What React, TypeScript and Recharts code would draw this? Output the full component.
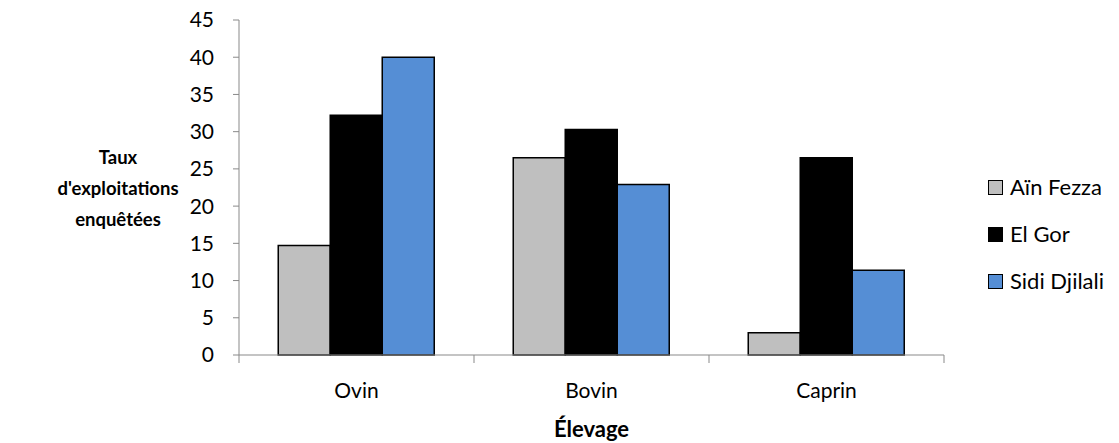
import { Bar, BarChart, XAxis, YAxis } from "recharts";

const CATEGORIES = ["Ovin", "Bovin", "Caprin"];
const AIN_FEZZA = [14.7, 26.5, 3];
const EL_GOR = [32.2, 30.3, 26.5];
const SIDI_DJILALI = [40, 22.9, 11.4];
const Y_TICKS = [0, 5, 10, 15, 20, 25, 30, 35, 40, 45];

const SERIES = [
  { key: "ainFezza", name: "Aïn Fezza", color: "#BFBFBF" },
  { key: "elGor", name: "El Gor", color: "#000000" },
  { key: "sidiDjilali", name: "Sidi Djilali", color: "#558ED5" },
];

const data = CATEGORIES.map((name, i) => ({
  name,
  ainFezza: AIN_FEZZA[i],
  elGor: EL_GOR[i],
  sidiDjilali: SIDI_DJILALI[i],
}));

const FONT = "Lato, 'Open Sans', sans-serif";
const AXIS_GRAY = "#898989";
const WIDTH = 1119;
const HEIGHT = 443;
const MARGIN = { top: 20, right: 175, bottom: 0, left: 0 };
const X_AXIS_H = 88;
const Y_AXIS_W = 239;
const BAND = (WIDTH - MARGIN.right - Y_AXIS_W) / CATEGORIES.length;

// category label centred in its band, tick marks on the band edges
function CategoryTick(props: any) {
  const { x, y, payload, index } = props;
  const half = BAND / 2;
  return (
    <g>
      <line x1={x - half} x2={x - half} y1={y} y2={y + 8} stroke={AXIS_GRAY} />
      {index === CATEGORIES.length - 1 && (
        <line x1={x + half} x2={x + half} y1={y} y2={y + 8} stroke={AXIS_GRAY} />
      )}
      <text x={x} y={y + 43} textAnchor="middle" fill="#000" fontSize={21} fontFamily={FONT}>
        {payload.value}
      </text>
    </g>
  );
}

function YTitle() {
  const lines = ["Taux", "d'exploitations", "enquêtées"];
  return (
    <text textAnchor="middle" fontSize={18.5} fontWeight="bold" fontFamily={FONT} fill="#000">
      {lines.map((l, i) => (
        <tspan key={l} x={118} y={164 + i * 31}>
          {l}
        </tspan>
      ))}
    </text>
  );
}

function XTitle(props: any) {
  const { viewBox } = props;
  return (
    <text
      x={viewBox.x + viewBox.width / 2}
      y={437}
      textAnchor="middle"
      fontSize={22}
      fontWeight="bold"
      fontFamily={FONT}
      fill="#000"
    >
      Élevage
    </text>
  );
}

function LegendBox() {
  return (
    <div
      style={{
        position: "absolute",
        left: 988,
        top: 175,
        display: "flex",
        flexDirection: "column",
        gap: 23,
        fontFamily: FONT,
        fontSize: 22,
        lineHeight: "24px",
      }}
    >
      {SERIES.map((s) => (
        <div key={s.key} style={{ display: "flex", alignItems: "center", height: 24 }}>
          <span
            style={{
              width: 15,
              height: 15,
              background: s.color,
              border: "1.5px solid #000",
              boxSizing: "border-box",
              marginRight: 7,
            }}
          />
          <span>{s.name}</span>
        </div>
      ))}
    </div>
  );
}

export default function App() {
  return (
    <div style={{ position: "absolute", left: 0, top: 0, width: WIDTH, height: HEIGHT, background: "#fff" }}>
      <BarChart
        width={WIDTH}
        height={HEIGHT}
        data={data}
        margin={MARGIN}
        barGap={0}
        barCategoryGap="16.7%"
      >
        <XAxis
          dataKey="name"
          stroke={AXIS_GRAY}
          tickLine={false}
          tickSize={0}
          tickMargin={0}
          height={X_AXIS_H}
          tick={<CategoryTick />}
          interval={0}
          label={<XTitle />}
        />
        <YAxis
          width={Y_AXIS_W}
          domain={[0, 45]}
          ticks={Y_TICKS}
          interval={0}
          stroke={AXIS_GRAY}
          tickSize={6}
          tickMargin={19}
          tick={{ fill: "#000", fontSize: 21, fontFamily: FONT }}
          label={<YTitle />}
        />
        {SERIES.map((s) => (
          <Bar
            key={s.key}
            dataKey={s.key}
            name={s.name}
            fill={s.color}
            stroke="#000"
            strokeWidth={1.5}
            isAnimationActive={false}
          />
        ))}
      </BarChart>
      <LegendBox />
    </div>
  );
}
